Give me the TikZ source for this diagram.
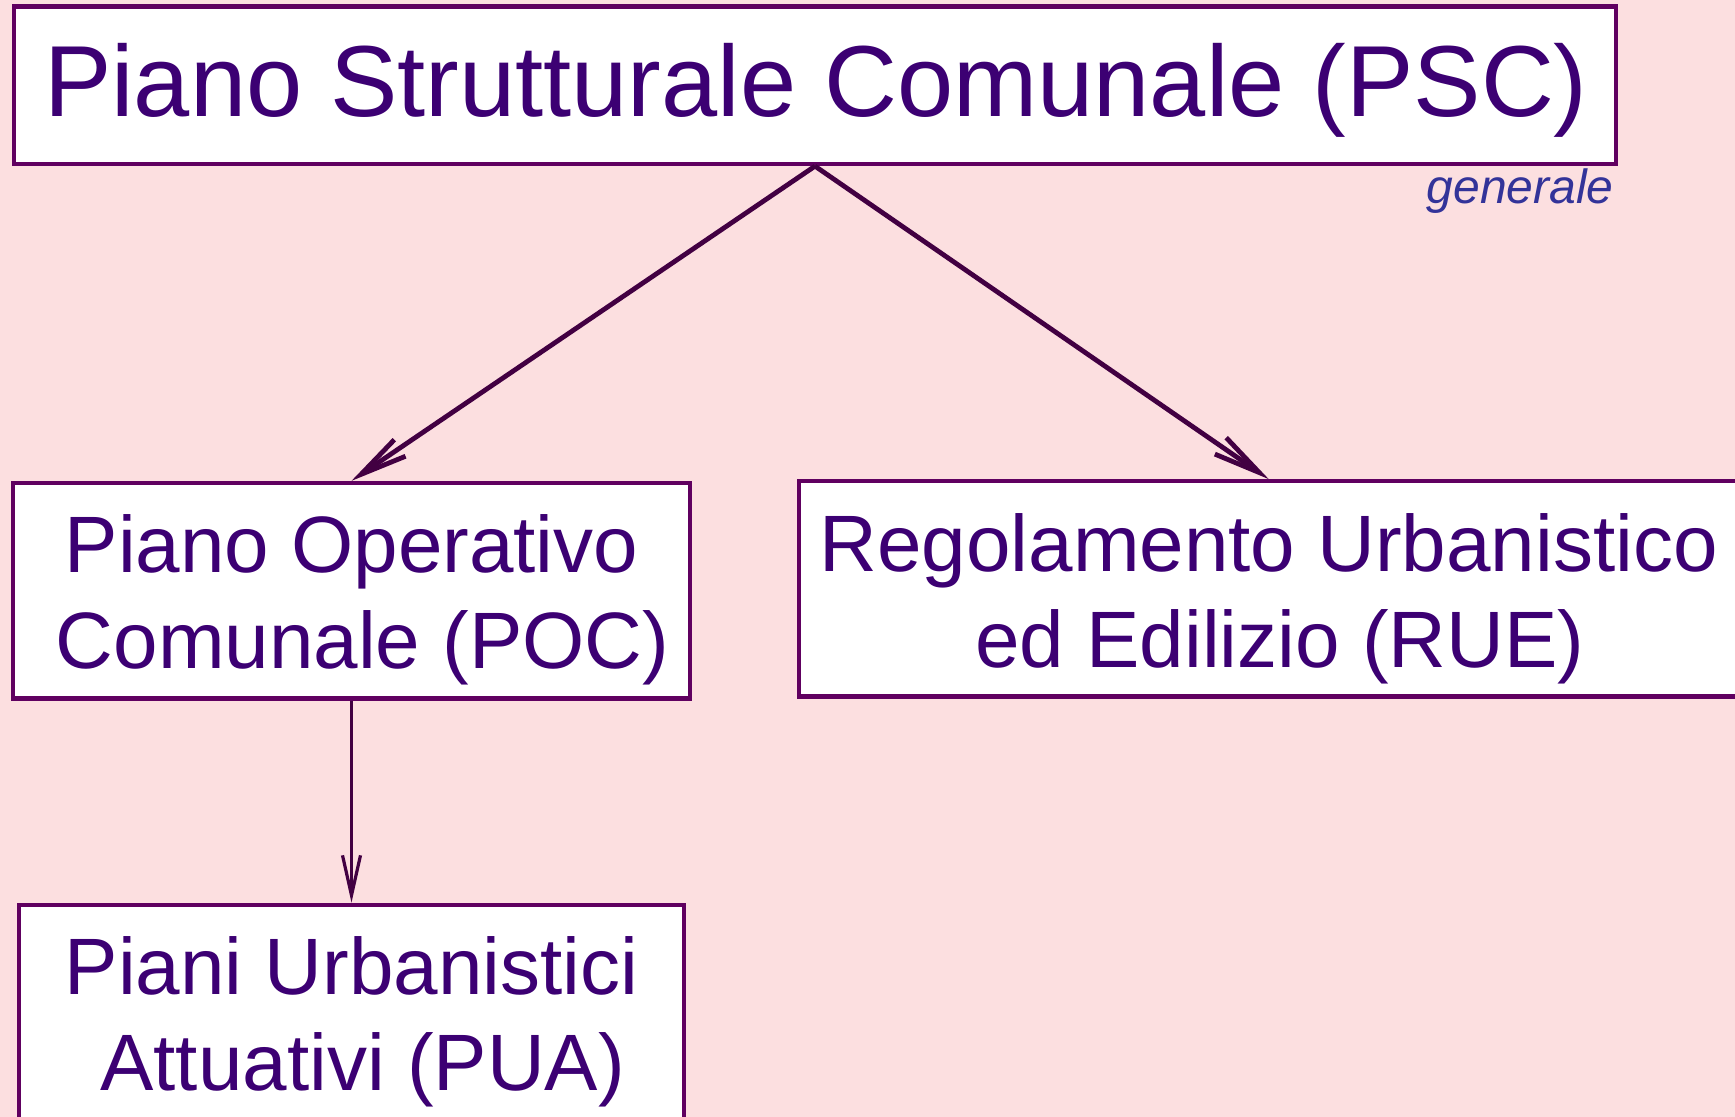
\documentclass[tikz,border=0pt]{standalone}
\usepackage{fontspec}
\setmainfont{Liberation Sans}
\usetikzlibrary{arrows.meta}
\definecolor{bgpink}{RGB}{252,223,224}
\definecolor{txtc}{RGB}{60,0,115}
\definecolor{framec}{RGB}{96,0,96}
\definecolor{arrc}{RGB}{66,0,66}
\definecolor{notec}{RGB}{51,51,153}
\begin{document}
\begin{tikzpicture}[x=0.5pt,y=-0.5pt,
  box/.style={draw=framec, fill=white, line width=2.2pt, inner sep=0pt, rectangle},
  lbl/.style={text=txtc, align=flush center, text width=520pt, anchor=base, inner sep=0pt,
    font=\fontsize{40pt}{48.25pt}\selectfont},
  biglbl/.style={text=txtc, anchor=base, inner sep=0pt,
    font=\fontsize{50.5pt}{60pt}\selectfont},
  notelbl/.style={text=notec, anchor=base east, inner sep=0pt,
    font=\fontsize{24pt}{28pt}\selectfont\itshape},
  link/.style={draw=arrc, line width=2.4pt, -{Straight Barb[length=23.5pt,width=10pt]}},
  thinlink/.style={draw=arrc, line width=1.6pt, -{Straight Barb[length=20pt,width=9pt]}}
]
\useasboundingbox (0,0) rectangle (1735,1117);
\fill[bgpink] (0,0) rectangle (1735,1117);

\node[box, minimum width=801pt, minimum height=78.65pt] (psc) at (815,85.3) {};
\node[box, minimum width=338.7pt, minimum height=107.65pt] (poc) at (351.5,590.7) {};
\node[box, minimum width=469.9pt, minimum height=107.5pt] (rue) at (1268.7,588.8) {};
\node[box, minimum width=332.5pt, minimum height=107.65pt] (pua) at (351.5,1012.45) {};

\node[biglbl] (psct) at (816,117) {Piano Strutturale Comunale (PSC)};
\node[notelbl] (gen) at (1614,204) {generale};
\node[lbl] (poct) at (351.5,572) {Piano Operativo\\\hspace*{0.278em}Comunale (POC)};
\node[lbl] (ruet) at (1268.7,571) {Regolamento Urbanistico\\\hspace*{0.278em}ed Edilizio (RUE)};
\node[lbl] (puat) at (351.5,994) {Piani Urbanistici\\\hspace*{0.278em}Attuativi (PUA)};

\draw[link] (psc.south) -- (poc.north);
\draw[link] (psc.south) -- (rue.north);
\draw[thinlink] (poc.south) -- (pua.north);
\end{tikzpicture}
\end{document}
